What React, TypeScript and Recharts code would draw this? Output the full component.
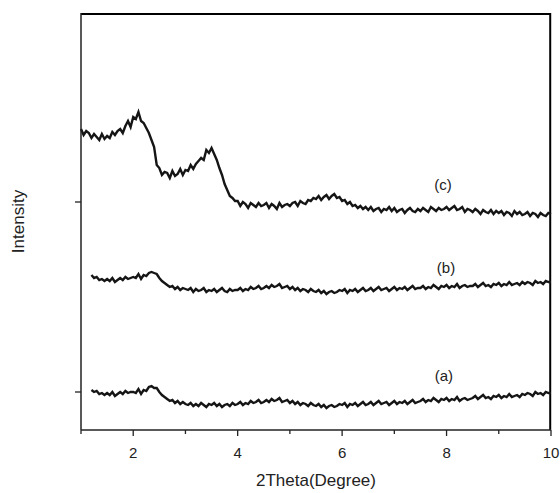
import React from 'react';
import {
  LineChart, Line, XAxis, YAxis, ReferenceDot, ReferenceLine,
} from 'recharts';

// 2θ sampling grid (degree)
const theta = [
  1, 1.05, 1.1, 1.15, 1.2, 1.25, 1.3, 1.35, 1.4, 1.45,
  1.5, 1.55, 1.6, 1.65, 1.7, 1.75, 1.8, 1.85, 1.9, 1.95,
  2, 2.05, 2.1, 2.15, 2.2, 2.25, 2.3, 2.35, 2.4, 2.45,
  2.5, 2.55, 2.6, 2.65, 2.7, 2.75, 2.8, 2.85, 2.9, 2.95,
  3, 3.05, 3.1, 3.15, 3.2, 3.25, 3.3, 3.35, 3.4, 3.45,
  3.5, 3.55, 3.6, 3.65, 3.7, 3.75, 3.8, 3.85, 3.9, 3.95,
  4, 4.05, 4.1, 4.15, 4.2, 4.25, 4.3, 4.35, 4.4, 4.45,
  4.5, 4.55, 4.6, 4.65, 4.7, 4.75, 4.8, 4.85, 4.9, 4.95,
  5, 5.05, 5.1, 5.15, 5.2, 5.25, 5.3, 5.35, 5.4, 5.45,
  5.5, 5.55, 5.6, 5.65, 5.7, 5.75, 5.8, 5.85, 5.9, 5.95,
  6, 6.05, 6.1, 6.15, 6.2, 6.25, 6.3, 6.35, 6.4, 6.45,
  6.5, 6.55, 6.6, 6.65, 6.7, 6.75, 6.8, 6.85, 6.9, 6.95,
  7, 7.05, 7.1, 7.15, 7.2, 7.25, 7.3, 7.35, 7.4, 7.45,
  7.5, 7.55, 7.6, 7.65, 7.7, 7.75, 7.8, 7.85, 7.9, 7.95,
  8, 8.05, 8.1, 8.15, 8.2, 8.25, 8.3, 8.35, 8.4, 8.45,
  8.5, 8.55, 8.6, 8.65, 8.7, 8.75, 8.8, 8.85, 8.9, 8.95,
  9, 9.05, 9.1, 9.15, 9.2, 9.25, 9.3, 9.35, 9.4, 9.45,
  9.5, 9.55, 9.6, 9.65, 9.7, 9.75, 9.8, 9.85, 9.9, 9.95,
  10,
];

// intensity (arb. units)
const curveA = [
  null, null, null, null, 40, 38, 39, 36, 37, 35,
  37, 35, 38, 34, 36, 38, 36, 39, 37, 38,
  38, 37, 41, 36, 40, 39, 43, 44, 42, 42,
  38, 35, 33, 31, 29, 30, 27, 29, 26, 28,
  26, 25, 27, 24, 26, 24, 27, 25, 23, 26,
  25, 27, 24, 26, 23, 25, 26, 24, 27, 25,
  26, 28, 25, 27, 26, 29, 27, 28, 30, 27,
  28, 30, 28, 31, 29, 30, 32, 28, 29, 30,
  27, 29, 26, 28, 25, 27, 26, 24, 27, 25,
  24, 26, 23, 25, 22, 24, 25, 23, 24, 26,
  25, 27, 23, 26, 25, 27, 24, 26, 28, 25,
  26, 28, 25, 27, 29, 26, 27, 28, 25, 27,
  29, 26, 28, 27, 29, 26, 28, 30, 27, 28,
  29, 31, 28, 30, 29, 32, 30, 28, 31, 30,
  32, 29, 31, 30, 33, 29, 31, 32, 30, 31,
  32, 34, 31, 33, 35, 32, 33, 31, 34, 33,
  35, 32, 34, 33, 36, 33, 34, 35, 33, 36,
  35, 37, 36, 34, 38, 36, 37, 35, 38, 37,
  37,
];

const curveB = [
  null, null, null, null, 155, 152, 153, 150, 151, 149,
  151, 149, 152, 148, 150, 152, 150, 153, 151, 152,
  153, 152, 156, 151, 155, 154, 157, 158, 157, 156,
  152, 149, 147, 145, 143, 144, 141, 143, 140, 142,
  141, 140, 142, 138, 141, 139, 140, 142, 138, 140,
  139, 141, 138, 140, 142, 139, 138, 141, 139, 140,
  140, 142, 139, 141, 140, 143, 141, 142, 144, 141,
  142, 144, 142, 145, 143, 144, 146, 142, 143, 144,
  141, 143, 140, 142, 139, 141, 140, 138, 141, 139,
  138, 140, 137, 139, 136, 138, 139, 137, 138, 140,
  139, 141, 137, 140, 139, 141, 138, 140, 142, 139,
  140, 142, 139, 141, 143, 140, 141, 142, 139, 141,
  143, 140, 142, 141, 143, 140, 142, 144, 141, 142,
  142, 144, 141, 143, 142, 145, 143, 141, 144, 143,
  145, 142, 144, 143, 146, 142, 144, 145, 143, 144,
  144, 146, 143, 145, 147, 144, 145, 143, 146, 145,
  147, 144, 146, 145, 148, 145, 146, 147, 145, 148,
  146, 148, 147, 145, 149, 147, 148, 146, 149, 148,
  148,
];

const curveC = [
  301, 295, 299, 297, 292, 296, 293, 290, 296, 291,
  294, 292, 298, 295, 299, 301, 297, 304, 309, 303,
  313, 311, 318, 309, 307, 302, 297, 290, 283, 265,
  262, 255, 258, 257, 252, 259, 254, 256, 261, 255,
  260, 259, 265, 261, 266, 269, 272, 270, 280, 277,
  282, 276, 270, 262, 255, 246, 240, 234, 232, 229,
  229, 224, 228, 226, 222, 227, 225, 223, 227, 224,
  225, 227, 222, 226, 224, 221, 227, 223, 225, 226,
  224, 227, 228, 224, 229, 227, 226, 230, 229, 232,
  231, 234, 230, 233, 235, 231, 234, 236, 232, 233,
  229, 230, 226, 228, 224, 225, 222, 224, 221, 223,
  220, 223, 219, 221, 222, 218, 221, 220, 223, 219,
  222, 218, 220, 221, 217, 220, 222, 219, 218, 221,
  219, 222, 220, 218, 223, 221, 219, 222, 220, 221,
  223, 220, 222, 224, 220, 221, 223, 218, 221, 220,
  218, 221, 219, 216, 220, 218, 217, 220, 216, 219,
  217, 219, 215, 218, 217, 214, 219, 216, 218, 215,
  216, 218, 214, 217, 216, 213, 217, 215, 214, 217,
  216,
];

const xTicks = [1, 2, 3, 4, 5, 6, 7, 8, 9, 10];
const yTicks = [38, 228];

const curveNames = ['(a)', '(b)', '(c)'];
const nameTheta = [7.95, 7.99, 7.93];
const nameLevel = [54, 162, 245];

const FONT = '"Liberation Sans", Arial, sans-serif';
const INK = '#222';
const W = 560;
const H = 493;
const M = { top: 13, right: 9, bottom: 0, left: 0 };

const chartData = theta.map((t, i) => ({
  theta: t,
  a: curveA[i],
  b: curveB[i],
  c: curveC[i],
}));

const ThetaTick = (props: any) => {
  const { x, y, payload } = props;
  const major = payload.value % 2 === 0;
  return (
    <g>
      <line x1={x} x2={x} y1={y} y2={y + (major ? 6 : 4)} stroke={INK} strokeWidth={1.3} />
      {major && (
        <text x={x} y={y + 28} textAnchor="middle" fontSize={15} fontFamily={FONT} fill={INK}>
          {payload.value}
        </text>
      )}
    </g>
  );
};

const XTitle = (props: any) => {
  const vb = props.viewBox;
  return (
    <text x={vb.x + vb.width / 2} y={486} textAnchor="middle" fontSize={17} fontFamily={FONT} fill={INK}>
      2Theta(Degree)
    </text>
  );
};

const YTitle = (props: any) => {
  const vb = props.viewBox;
  const cy = vb.y + vb.height / 2;
  return (
    <text x={24} y={cy} transform={`rotate(-90, 24, ${cy})`} textAnchor="middle" fontSize={17} fontFamily={FONT} fill={INK}>
      Intensity
    </text>
  );
};

export default function App() {
  return (
    <div style={{ position: 'absolute', left: 0, top: 0, width: W, height: H, background: '#fff' }}>
      <LineChart width={W} height={H} data={chartData} margin={M}>
        <XAxis
          dataKey="theta"
          type="number"
          domain={[1, 10]}
          ticks={xTicks}
          height={63}
          tickSize={0}
          tickMargin={0}
          tickLine={false}
          tick={<ThetaTick />}
          axisLine={{ stroke: INK, strokeWidth: 1.5 }}
          label={<XTitle />}
        />
        <YAxis
          type="number"
          domain={[0, 417]}
          ticks={yTicks}
          width={81}
          tickFormatter={() => ''}
          tickSize={6}
          tickLine={{ stroke: INK, strokeWidth: 1.3 }}
          axisLine={{ stroke: INK, strokeWidth: 1.5 }}
          label={<YTitle />}
        />
        {/* frame: top and right edges, drawn a hair inside the plot box */}
        <ReferenceLine y={416} stroke="#000" strokeWidth={2} />
        <ReferenceLine x={9.985} stroke="#000" strokeWidth={2} />
        {['a', 'b', 'c'].map((key) => (
          <Line
            key={key}
            type="linear"
            dataKey={key}
            stroke="#151515"
            strokeWidth={2.4}
            dot={false}
            activeDot={false}
            isAnimationActive={false}
          />
        ))}
        {curveNames.map((name, i) => (
          <ReferenceDot
            key={name}
            x={nameTheta[i]}
            y={nameLevel[i]}
            r={0}
            stroke="none"
            fill="none"
            label={{ value: name, position: 'center', fontSize: 15, fontFamily: FONT, fill: INK }}
          />
        ))}
      </LineChart>
    </div>
  );
}
